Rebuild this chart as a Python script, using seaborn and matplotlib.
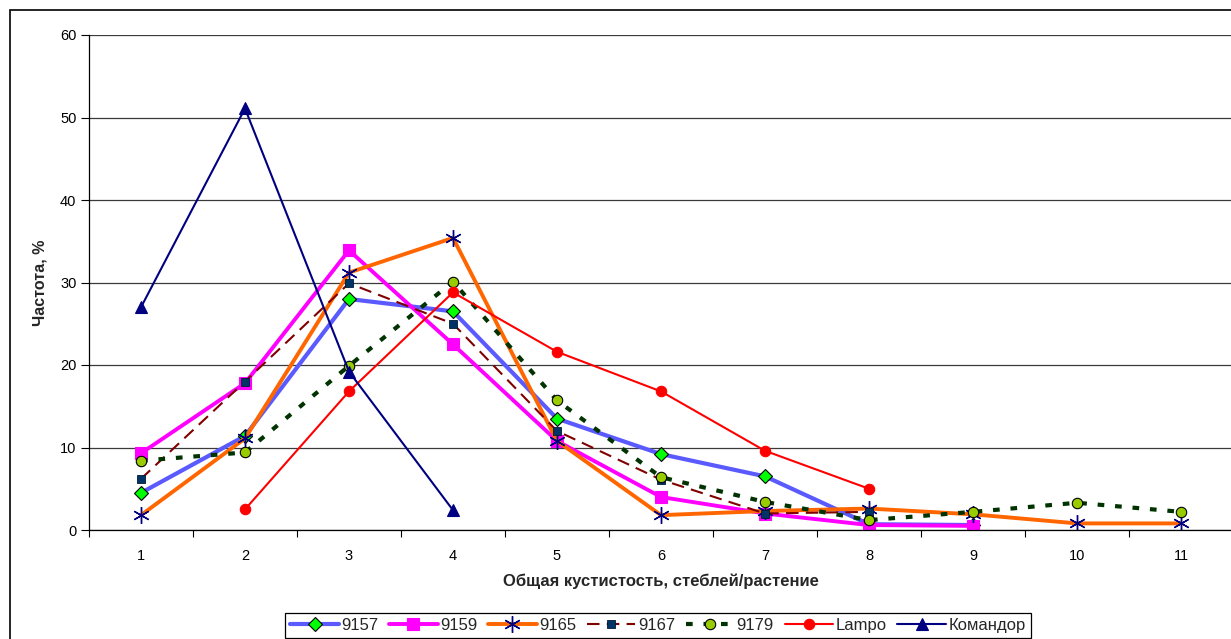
import matplotlib
import matplotlib.pyplot as plt
import numpy as np
import pandas as pd
import seaborn as sns
from matplotlib.patches import Rectangle

matplotlib.use("Agg")

# values (% per tillering class)
tillers = list(range(1, 12))
s9157 = [4.5, 11.4, 28.0, 26.5, 13.5, 9.2, 6.5, 0.7, 0.6]
s9159 = [9.3, 17.8, 33.9, 22.5, 10.8, 4.0, 2.0, 0.6, 0.5]
s9165 = [1.8, 11.1, 31.2, 35.4, 10.8, 1.8, 2.3, 2.6, 1.9, 0.8, 0.8]
s9167 = [6.2, 18.0, 29.9, 25.0, 12.0, 6.1, 2.0, 2.2]
s9179 = [8.4, 9.4, 19.9, 30.1, 15.7, 6.4, 3.4, 1.2, 2.2, 3.3, 2.2]
lampo_x = [2, 3, 4, 5, 6, 7, 8]
lampo = [2.5, 16.8, 28.8, 21.6, 16.8, 9.6, 5.0]
komandor = [27.0, 51.1, 19.2, 2.4]
y_ticks = [0, 10, 20, 30, 40, 50, 60]

series = [
    ("9157", tillers[:len(s9157)], s9157,
     dict(color="#5a5aff", lw=3.0, marker="D", ms=7, mfc="#00ff00", mec="black", mew=0.8)),
    ("9159", tillers[:len(s9159)], s9159,
     dict(color="#ff00ff", lw=2.8, marker="s", ms=8, mfc="#ff00ff", mec="#ff00ff", mew=0.8)),
    ("9165", tillers[:len(s9165)], s9165,
     dict(color="#ff6600", lw=2.8, marker=(6, 2, 0), ms=12, mfc="#000080", mec="#000080", mew=1.0)),
    ("9167", tillers[:len(s9167)], s9167,
     dict(color="#800000", lw=1.5, linestyle=(0, (6, 3.5)), marker="s", ms=5.5,
          mfc="#003366", mec="#001a33", mew=0.6)),
    ("9179", tillers[:len(s9179)], s9179,
     dict(color="#003300", lw=3, linestyle=(0, (1.6, 2.6)), marker="o", ms=7.5,
          mfc="#99cc00", mec="black", mew=0.8)),
    ("Lampo", lampo_x, lampo,
     dict(color="#ff0000", lw=1.5, marker="o", ms=7.5, mfc="#ff0000", mec="#ff0000", mew=0.8)),
    ("Командор", tillers[:len(komandor)], komandor,
     dict(color="#000080", lw=1.5, marker="^", ms=8, mfc="#000080", mec="#000080", mew=0.8)),
]

sns.set_theme(style="white")
plt.rcParams["font.family"] = ["Liberation Sans", "DejaVu Sans"]

fig = plt.figure(figsize=(12.31, 6.39), dpi=100)
ax = fig.add_axes([89 / 1231, 109 / 639, 1144 / 1231, 495 / 639])

for name, xs, ys, style in series:
    df = pd.DataFrame({"x": xs, "y": ys})
    sns.lineplot(data=df, x="x", y="y", ax=ax, label=name, errorbar=None,
                 estimator=None, sort=False, **style)

ax.set_xlim(0.5, 11.5)
ax.set_ylim(0, 60)
ax.set_yticks(y_ticks)
ax.set_xticks(tillers)
ax.set_xticks(np.arange(0.5, 12, 1), minor=True)
ax.tick_params(axis="x", which="major", length=0, pad=14, labelsize=10.5, colors="black")
ax.tick_params(axis="x", which="minor", length=5, width=0.8, direction="out", bottom=True, color="black")
ax.tick_params(axis="y", length=6, width=0.8, direction="out", left=True, labelsize=10.5,
               colors="black", pad=3)
ax.grid(axis="y", color="#3a3a3a", lw=0.9)
ax.set_axisbelow(True)
for side in ("top", "right"):
    ax.spines[side].set_visible(False)
for side in ("left", "bottom"):
    ax.spines[side].set_color("black")
    ax.spines[side].set_linewidth(0.9)

ax.set_xlabel("Общая кустистость, стеблей/растение", fontsize=12, fontweight="bold", labelpad=7)
ax.set_ylabel("Частота, %", fontsize=11.5, fontweight="bold", labelpad=9)

ax.legend(loc="upper center", bbox_to_anchor=(658 / 1231, 26 / 639),
          bbox_transform=fig.transFigure, ncol=7, fontsize=12, frameon=True,
          fancybox=False, edgecolor="black", framealpha=1, handlelength=2.9,
          handletextpad=0.15, columnspacing=0.65, borderpad=0.3, borderaxespad=0)
ax.get_legend().get_frame().set_linewidth(0.9)

fig.patches.append(Rectangle((9.5 / 1231, -0.2), 1.2, 1.2 - 9.5 / 639,
                             transform=fig.transFigure, fill=False, edgecolor="black",
                             lw=1.2, figure=fig))

fig.savefig("out.png", dpi=100)
